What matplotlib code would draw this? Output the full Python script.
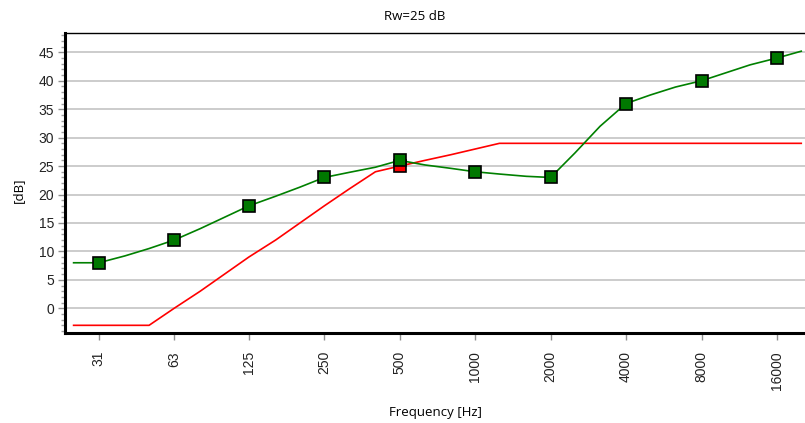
import matplotlib
matplotlib.use("Agg")
import matplotlib.pyplot as plt
from matplotlib.ticker import FixedLocator, MultipleLocator, NullFormatter

# third-octave band centres, 25 Hz .. 20 kHz
bands = [25, 31.5, 40, 50, 63, 80, 100, 125, 160, 200, 250, 315, 400, 500,
         630, 800, 1000, 1250, 1600, 2000, 2500, 3150, 4000, 5000, 6300,
         8000, 10000, 12500, 16000, 20000]

# measured sound reduction, third-octave
measured = [8, 8, 9.2, 10.5, 12, 14, 16, 18, 19.7, 21.3, 23, 23.9, 24.8, 26,
            25.2, 24.6, 24, 23.6, 23.2, 23, 27.3, 32, 36, 37.5, 38.9,
            40, 41.4, 42.8, 44, 45.2]

# shifted reference curve (Rw = 25 dB at 500 Hz)
reference = [-3, -3, -3, -3, 0, 3, 6, 9, 12, 15, 18, 21, 24, 25,
             26, 27, 28, 29, 29, 29, 29, 29, 29, 29, 29,
             29, 29, 29, 29, 29]

# octave values shown as markers
oct_freq = [31.5, 63, 125, 250, 500, 1000, 2000, 4000, 8000, 16000]
oct_labels = ["31", "63", "125", "250", "500", "1000", "2000", "4000", "8000", "16000"]
oct_measured = [8, 12, 18, 23, 26, 24, 23, 36, 40, 44]
rw_freq = 500
rw_value = 25

fig = plt.figure(figsize=(8.05, 4.23), dpi=100)
ax = fig.add_axes([65 / 805, 1 - 333 / 423, 1 - 65 / 805, 300 / 423])

ax.set_xscale("log", base=2)
ax.set_xlim(23.1, 20700)
ax.set_ylim(-4.35, 48.4)

ax.yaxis.set_major_locator(MultipleLocator(5))
ax.yaxis.set_minor_locator(MultipleLocator(1))
ax.set_yticks(range(0, 50, 5))
ax.xaxis.set_major_locator(FixedLocator(oct_freq))
ax.xaxis.set_minor_locator(FixedLocator([]))
ax.xaxis.set_minor_formatter(NullFormatter())
ax.set_xticklabels(oct_labels, rotation=90, fontsize=10, family="Liberation Sans")
for lab in ax.get_yticklabels():
    lab.set_family("Liberation Sans")
    lab.set_fontsize(10)

ax.grid(axis="y", which="major", color="#c8c8c8", linewidth=1.3)
ax.set_axisbelow(True)

ax.tick_params(axis="both", which="major", direction="out", length=5,
               width=1, color="#909090", labelcolor="#222222", pad=3)
ax.tick_params(axis="y", which="minor", direction="out", length=3,
               width=1, color="#a0a0a0")
ax.tick_params(axis="x", pad=8)

for side in ["left", "bottom"]:
    ax.spines[side].set_linewidth(2.2)
    ax.spines[side].set_color("black")
ax.spines["top"].set_linewidth(1.0)
ax.spines["right"].set_visible(False)

ax.plot(bands, reference, color="#ff0000", linewidth=1.2, zorder=3)
ax.plot(bands, measured, color="#008000", linewidth=1.2, zorder=4)

ax.plot([rw_freq], [rw_value], linestyle="none", marker="s", markersize=8.5,
        markerfacecolor="#ff0000", markeredgecolor="black", markeredgewidth=1.2,
        zorder=5, clip_on=False)
ax.plot(oct_freq, oct_measured, linestyle="none", marker="s", markersize=8.5,
        markerfacecolor="#007800", markeredgecolor="black", markeredgewidth=1.2,
        zorder=6, clip_on=False)

fig.text(415 / 805, 1 - 17 / 423, "Rw=25 dB", ha="center", va="center",
         fontsize=9.5, family="Open Sans")
fig.text(435 / 805, 1 - 412 / 423, "Frequency [Hz]", ha="center", va="center",
         fontsize=9.5, family="Open Sans")
fig.text(18 / 805, 1 - 190 / 423, "[dB]", ha="center", va="center",
         rotation=90, fontsize=9.5, family="Open Sans")

fig.savefig("out.png", dpi=100)
